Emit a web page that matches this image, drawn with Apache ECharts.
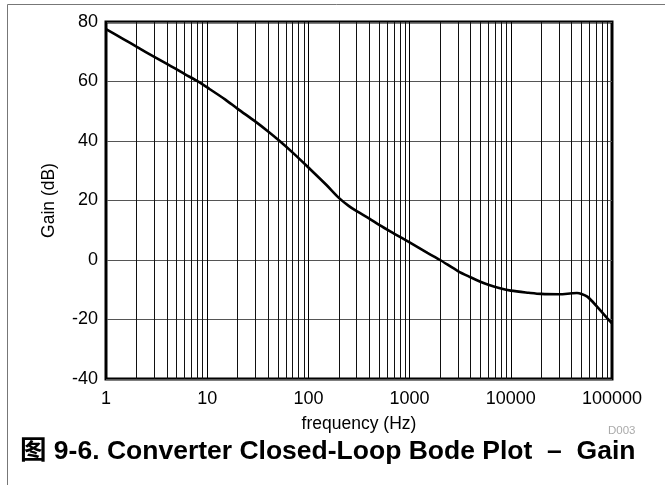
<!DOCTYPE html>
<html>
<head>
<meta charset="utf-8">
<script src="https://cdn.jsdelivr.net/npm/echarts@6/dist/echarts.min.js"></script>
<style>
  html, body { margin: 0; padding: 0; background: #fff; }
  #chart { width: 665px; height: 485px; }
</style>
</head>
<body>
<div id="chart"></div>
<script>
// Closed-loop gain of the converter, frequency in Hz, gain in dB
const frequency = [1, 1.5, 2, 3, 4, 5, 6, 8, 10, 15, 20, 30, 40, 52, 70, 100, 150, 200, 250, 300, 400, 500, 700, 1000, 1500, 2000, 3000, 4000, 5000, 6000, 8000, 10000, 15000, 20000, 30000, 40000, 45000, 50000, 57000, 65000, 76000, 90000, 100000];
const gainDb    = [77.6, 74.2, 71.7, 68.3, 65.9, 64.1, 62.5, 60.1, 58.0, 54.0, 50.8, 46.5, 43.2, 40.0, 36.1, 31.1, 25.3, 20.9, 18.2, 16.4, 13.9, 11.8, 8.9, 5.9, 2.4, 0, -3.7, -5.8, -7.3, -8.3, -9.6, -10.3, -11.0, -11.4, -11.5, -11.2, -11.1, -11.4, -12.3, -14.2, -16.8, -19.6, -21.3];

const xTickLabels = ['1', '10', '100', '1000', '10000', '100000'];
const yTicks = [-40, -20, 0, 20, 40, 60, 80];
// Intermediate log-grid frequencies (2..9 within each decade)
const minorGridFreqs = [];
for (let d = 1; d < 100000; d *= 10) {
  for (let m = 2; m <= 9; m++) minorGridFreqs.push(m * d);
}

const font = "'Liberation Sans', Arial, 'Noto Sans CJK SC', sans-serif";
const chart = echarts.init(document.getElementById('chart'));

chart.setOption({
  animation: false,
  backgroundColor: '#fff',
  grid: {
    left: 106, top: 22, width: 506, height: 357,
    show: true, borderColor: '#000', borderWidth: 3, backgroundColor: 'transparent'
  },
  xAxis: {
    type: 'log', logBase: 10, min: 1, max: 100000,
    name: 'frequency (Hz)', nameLocation: 'middle', nameGap: 36,
    nameTextStyle: { fontFamily: font, fontSize: 17.5, color: '#000' },
    axisLine: { show: false, onZero: false },
    axisTick: { show: false },
    minorTick: { show: false },
    axisLabel: {
      fontFamily: font, fontSize: 18, color: '#000', margin: 11,
      formatter: (v, i) => xTickLabels[i] !== undefined ? xTickLabels[i] : ''
    },
    splitLine: { show: true, lineStyle: { color: '#000', width: 1 } }
  },
  yAxis: {
    type: 'value', min: yTicks[0], max: yTicks[yTicks.length - 1], interval: 20,
    name: 'Gain (dB)', nameLocation: 'middle', nameGap: 48,
    nameTextStyle: { fontFamily: font, fontSize: 17.5, color: '#000' },
    axisLine: { show: false, onZero: false },
    axisTick: { show: false },
    axisLabel: { fontFamily: font, fontSize: 18, color: '#000', margin: 8 },
    splitLine: { show: true, lineStyle: { color: '#555', width: 1 } }
  },
  series: [{
    type: 'line',
    data: frequency.map((f, i) => [f, gainDb[i]]),
    smooth: 0.3,
    showSymbol: false,
    lineStyle: { color: '#000', width: 2.6 },
    z: 5,
    markLine: {
      silent: true,
      symbol: 'none',
      label: { show: false },
      animation: false,
      lineStyle: { color: '#111', width: 1, type: 'solid' },
      data: minorGridFreqs.map(f => ({ xAxis: f }))
    }
  }],
  graphic: [
    {
      type: 'rect', z: -1,
      shape: { x: 7.5, y: 4.5, width: 700, height: 600 },
      style: { fill: 'none', stroke: '#777', lineWidth: 1 }
    },
    {
      type: 'text', x: 608, y: 431,
      style: { text: 'D003', fontFamily: font, fontSize: 11.5, fill: '#aaa', verticalAlign: 'middle' }
    },
    {
      type: 'text', x: 20, y: 452,
      style: {
        text: '图 9-6. Converter Closed-Loop Bode Plot  –  Gain',
        fontFamily: font, fontSize: 26.5, fontWeight: 'bold', fill: '#000', verticalAlign: 'middle'
      }
    }
  ]
});
</script>
</body>
</html>
